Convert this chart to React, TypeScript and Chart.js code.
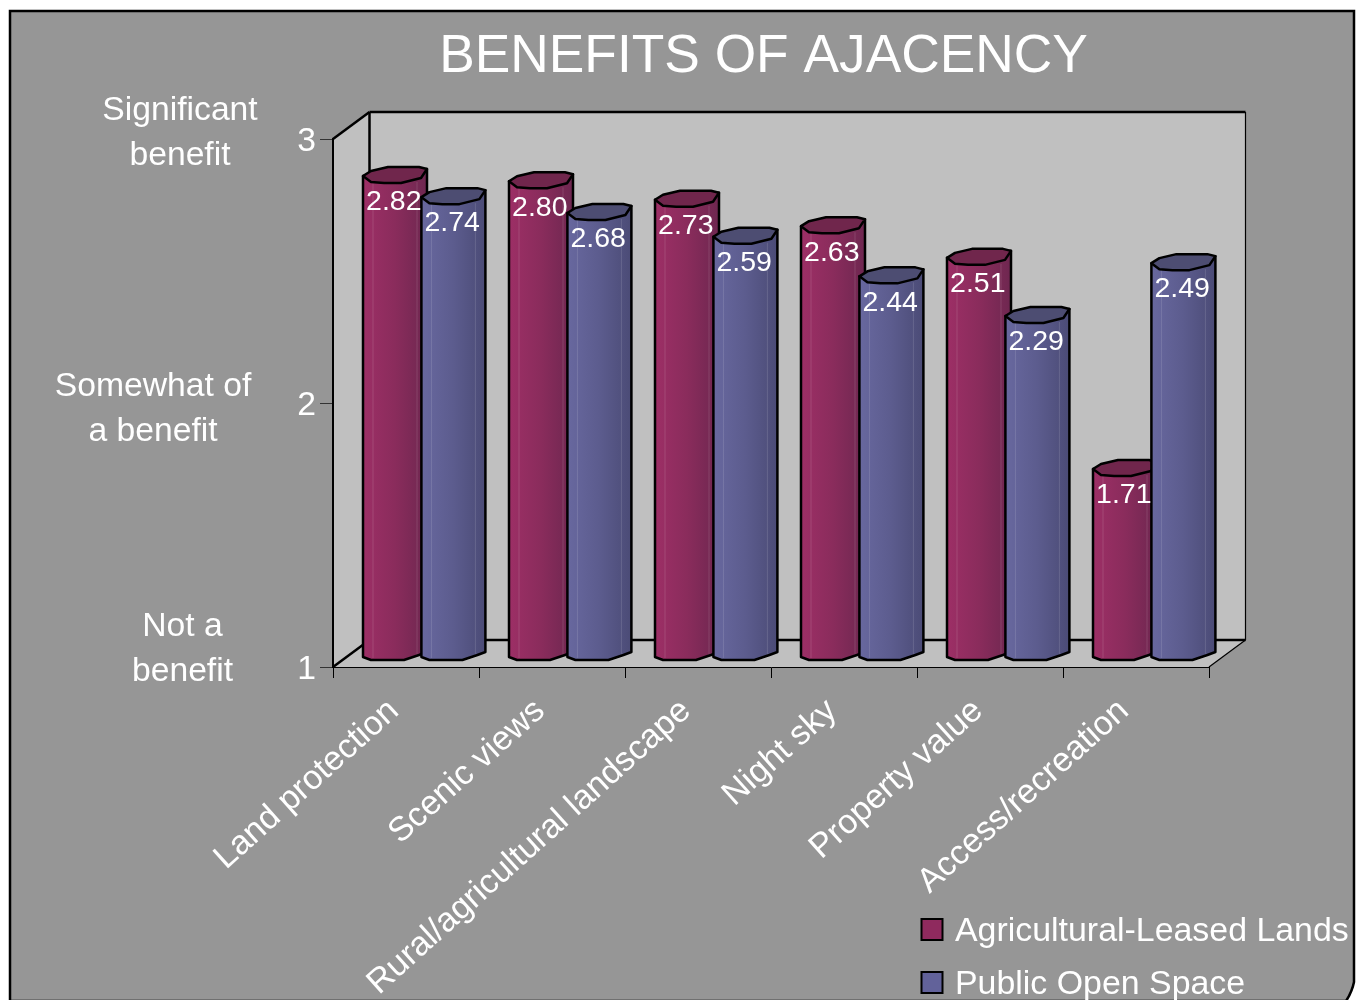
import React, { useEffect, useRef } from "react";
import { Chart, registerables } from "chart.js";

Chart.register(...registerables);

const titleText = "BENEFITS OF AJACENCY";
const categories = [
  "Land protection",
  "Scenic views",
  "Rural/agricultural landscape",
  "Night sky",
  "Property value",
  "Access/recreation",
];
const agriculturalLeased = [2.82, 2.8, 2.73, 2.63, 2.51, 1.71];
const publicOpenSpace = [2.74, 2.68, 2.59, 2.44, 2.29, 2.49];
const seriesNames = ["Agricultural-Leased Lands", "Public Open Space"];
const yTicks = [1, 2, 3];
const yCaptions = [
  ["Significant", "benefit"],
  ["Somewhat of", "a benefit"],
  ["Not a", "benefit"],
];

const FONT = '"Liberation Sans", Arial, sans-serif';
const GREY = "#969696";
const WALL = "#c0c0c0";

const palettes = [
  { left: "#9d2f66", mid: "#8a2c5c", right: "#6e2750", cap: "#70264c", swatch: "#8f2a5e" },
  { left: "#68689f", mid: "#5c5c8e", right: "#4b4b76", cap: "#4d4d72", swatch: "#62629a" },
];

const CAP = [[8, -5], [25, -9], [56, -9], [64, -7], [58, 2], [38, 7], [21, 7], [8, 6]];
const FOOT = [[64, -5], [56, -2], [41, 3], [8, 3]];

function drawCylinder(ctx: CanvasRenderingContext2D, el: any, pal: any) {
  const x0 = el.x - el.width / 2 + 15.4;
  const yt = el.y - 10.5;
  const yb = el.base - 9.5;
  const g = ctx.createLinearGradient(x0, 0, x0 + 64, 0);
  g.addColorStop(0, pal.left);
  g.addColorStop(0.5, pal.mid);
  g.addColorStop(1, pal.right);

  const silhouette = () => {
    ctx.beginPath();
    ctx.moveTo(x0, yt);
    ctx.lineTo(x0 + 64, yt - 7);
    FOOT.forEach(([dx, dy]) => ctx.lineTo(x0 + dx, yb + dy));
    ctx.lineTo(x0, yb);
    ctx.closePath();
  };
  silhouette();
  ctx.fillStyle = g;
  ctx.fill();

  ctx.strokeStyle = "rgba(255,255,255,0.13)";
  ctx.lineWidth = 1;
  [10, 54].forEach((dx) => {
    ctx.beginPath();
    ctx.moveTo(x0 + dx, yt + 6);
    ctx.lineTo(x0 + dx, yb + 1);
    ctx.stroke();
  });

  silhouette();
  ctx.strokeStyle = "#000";
  ctx.lineWidth = 2.5;
  ctx.lineJoin = "round";
  ctx.stroke();

  ctx.beginPath();
  ctx.moveTo(x0, yt);
  CAP.forEach(([dx, dy]) => ctx.lineTo(x0 + dx, yt + dy));
  ctx.closePath();
  ctx.fillStyle = pal.cap;
  ctx.fill();
  ctx.stroke();
}

const scenePlugin = {
  id: "scene",
  beforeDraw(chart: any) {
    const { ctx, chartArea: a } = chart;
    const dx = 36.5;
    const dy = 27;
    ctx.save();
    // page panel
    ctx.beginPath();
    ctx.moveTo(10, 11);
    ctx.lineTo(1354, 11);
    ctx.lineTo(1354, 982);
    ctx.quadraticCurveTo(1352, 992, 1346, 1001);
    ctx.lineTo(10, 1001);
    ctx.closePath();
    ctx.fillStyle = GREY;
    ctx.fill();
    ctx.strokeStyle = "#000";
    ctx.lineWidth = 2.5;
    ctx.stroke();

    // walls and floor
    ctx.fillStyle = WALL;
    ctx.beginPath();
    ctx.moveTo(a.left, a.top);
    ctx.lineTo(a.left + dx, a.top - dy);
    ctx.lineTo(a.right + dx, a.top - dy);
    ctx.lineTo(a.right + dx, a.bottom - dy);
    ctx.lineTo(a.right, a.bottom);
    ctx.lineTo(a.left, a.bottom);
    ctx.closePath();
    ctx.fill();

    ctx.strokeStyle = "#000";
    ctx.lineWidth = 2.5;
    const seg = (x1: number, y1: number, x2: number, y2: number) => {
      ctx.beginPath();
      ctx.moveTo(x1, y1);
      ctx.lineTo(x2, y2);
      ctx.stroke();
    };
    seg(a.left, a.top, a.left + dx, a.top - dy);
    seg(a.left, a.bottom, a.left + dx, a.bottom - dy);
    seg(a.left + dx, a.top - dy, a.right + dx, a.top - dy);
    seg(a.left + dx, a.top - dy, a.left + dx, a.bottom - dy);
    seg(a.left + dx, a.bottom - dy, a.right + dx, a.bottom - dy);
    ctx.lineWidth = 1.2;
    seg(a.right + dx, a.top - dy, a.right + dx, a.bottom - dy);
    seg(a.right + dx, a.bottom - dy, a.right, a.bottom);
    ctx.restore();
  },
  beforeDatasetsDraw(chart: any) {
    const { ctx } = chart;
    ctx.save();
    const metas = chart.data.datasets.map((_: any, i: number) => chart.getDatasetMeta(i));
    metas[0].data.forEach((_: any, idx: number) => {
      metas.forEach((m: any, d: number) => drawCylinder(ctx, m.data[idx], palettes[d]));
    });
    ctx.restore();
  },
  beforeDatasetDraw() {
    return false;
  },
  afterDatasetsDraw(chart: any) {
    const { ctx, scales } = chart;
    ctx.save();
    ctx.fillStyle = "#fff";
    ctx.textAlign = "center";
    ctx.textBaseline = "middle";

    // value labels
    ctx.font = `28.5px ${FONT}`;
    chart.data.datasets.forEach((ds: any, d: number) => {
      const meta = chart.getDatasetMeta(d);
      meta.data.forEach((el: any, i: number) => {
        ctx.fillText(ds.data[i].toFixed(2), el.x + 17, el.y + 16);
      });
    });

    // title
    ctx.font = `53.3px ${FONT}`;
    ctx.fillText(titleText, 763.5, 57);

    // y captions
    ctx.font = `33.7px ${FONT}`;
    const anchors = [
      { x: 180, y: scales.y.getPixelForValue(3) - 6 },
      { x: 153, y: scales.y.getPixelForValue(2) + 6 },
      { x: 182.5, y: scales.y.getPixelForValue(1) - 18 },
    ];
    yCaptions.forEach((lines, i) => {
      ctx.fillText(lines[0], anchors[i].x, anchors[i].y - 22.5);
      ctx.fillText(lines[1], anchors[i].x, anchors[i].y + 22.5);
    });

    // legend
    ctx.font = `33.9px ${FONT}`;
    ctx.textAlign = "left";
    seriesNames.forEach((name, i) => {
      const cy = 930 + i * 53;
      ctx.fillStyle = palettes[i].swatch;
      ctx.fillRect(921.5, cy - 11, 21, 21);
      ctx.strokeStyle = "#000";
      ctx.lineWidth = 2;
      ctx.strokeRect(921.5, cy - 11, 21, 21);
      ctx.fillStyle = "#fff";
      ctx.fillText(name, 955, cy + 2);
    });
    ctx.restore();
  },
};

export default function App() {
  const ref = useRef<HTMLCanvasElement>(null);
  useEffect(() => {
    const chart = new Chart(ref.current as HTMLCanvasElement, {
      type: "bar",
      data: {
        labels: categories,
        datasets: [
          { label: seriesNames[0], data: agriculturalLeased, base: 1, backgroundColor: palettes[0].swatch },
          { label: seriesNames[1], data: publicOpenSpace, base: 1, backgroundColor: palettes[1].swatch },
        ],
      },
      plugins: [scenePlugin],
      options: {
        responsive: false,
        animation: false,
        layout: { padding: { left: 0, right: 152, top: 139, bottom: 0 } },
        plugins: { legend: { display: false }, title: { display: false }, tooltip: { enabled: false } },
        datasets: { bar: { categoryPercentage: 0.8, barPercentage: 1 } },
        scales: {
          x: {
            afterFit: (s: any) => {
              s.height = 333;
            },
            grid: { drawOnChartArea: false, color: "#000", tickLength: 11, lineWidth: 1 },
            border: { color: "#000", width: 1 },
            ticks: {
              color: "#fff",
              font: { family: FONT, size: 34 },
              minRotation: 42,
              maxRotation: 42,
              autoSkip: false,
              padding: 13,
              labelOffset: -12,
            },
          },
          y: {
            min: 1,
            max: 3,
            afterFit: (s: any) => {
              s.width = 333;
            },
            afterBuildTicks: (s: any) => {
              s.ticks = yTicks.map((value) => ({ value }));
            },
            grid: { drawOnChartArea: false, color: "#333", tickLength: 13, lineWidth: 1 },
            border: { color: "#000", width: 2 },
            ticks: { color: "#fff", font: { family: FONT, size: 33.7 }, padding: 4, labelOffset: 3 },
          },
        },
      },
    } as any);
    return () => chart.destroy();
  }, []);
  return (
    <div style={{ position: "absolute", left: 0, top: 0, width: 1361, height: 1000, overflow: "hidden", background: "#fff" }}>
      <canvas ref={ref} width={1361} height={1000} style={{ display: "block" }} />
    </div>
  );
}
